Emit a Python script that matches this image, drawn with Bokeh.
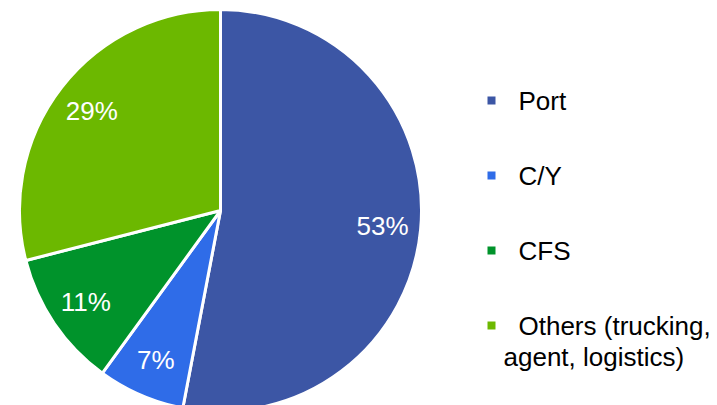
import numpy as np
from bokeh.plotting import figure
from bokeh.models import Range1d, ColumnDataSource
from bokeh.core.properties import value
from bokeh.embed import file_html
from bokeh.resources import INLINE

categories = ["Port", "C/Y", "CFS", "Others (trucking, agent, logistics)"]
legend_line1 = ["Port", "C/Y", "CFS", "Others (trucking,"]
legend_line2 = ["", "", "", "agent, logistics)"]
shares = [53, 7, 11, 29]
colors = ["#3C56A5", "#2F6CE8", "#00932B", "#6CB800"]

W, H = 717, 405
p = figure(width=W, height=H, output_backend="svg", toolbar_location=None,
           x_range=Range1d(0, W), y_range=Range1d(0, H), min_border=0)
p.axis.visible = False
p.grid.visible = False
p.outline_line_color = None
p.background_fill_color = "white"

cx, cy, r = 220, H - 210, 201
vals = np.array(shares, dtype=float)
frac = vals / vals.sum()
cum = np.concatenate([[0], np.cumsum(frac)])
start = np.pi / 2 - cum[:-1] * 2 * np.pi
end = np.pi / 2 - cum[1:] * 2 * np.pi
mid = (start + end) / 2

src = ColumnDataSource(dict(start=start, end=end, color=colors))
p.wedge(x=cx, y=cy, radius=r, start_angle="start", end_angle="end",
        direction="clock", fill_color="color", line_color="white", line_width=3,
        source=src)

lr = 0.81 * r
lab = ColumnDataSource(dict(x=cx + lr * np.cos(mid), y=cy + lr * np.sin(mid),
                            t=[f"{v}%" for v in shares]))
p.text(x="x", y="y", text="t", source=lab, text_color="white",
       text_font=value("Liberation Sans"), text_font_size="26px",
       text_align="center", text_baseline="middle")

ly = np.array([H - 100, H - 175, H - 250, H - 325])
p.scatter(x=[491] * 4, y=ly, marker="square", size=8, fill_color=colors,
          line_color=None)
p.text(x=[518] * 4, y=ly, text=legend_line1, text_color="black",
       text_font=value("Liberation Sans"), text_font_size="26px",
       text_align="left", text_baseline="middle")
p.text(x=[503] * 4, y=ly - 31, text=legend_line2, text_color="black",
       text_font=value("Liberation Sans"), text_font_size="26px",
       text_align="left", text_baseline="middle")

open("out.html", "w").write(file_html(p, INLINE))
